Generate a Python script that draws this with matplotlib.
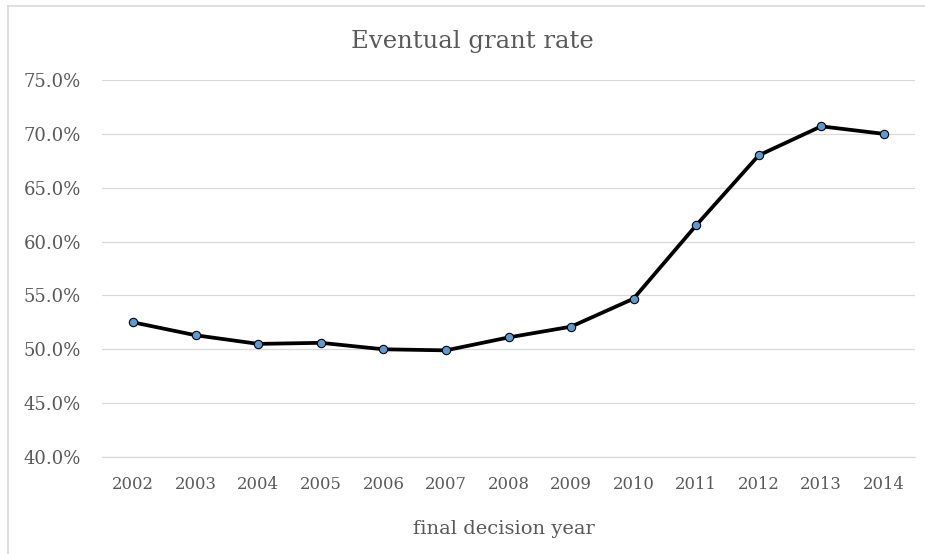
import matplotlib.pyplot as plt
from matplotlib.ticker import PercentFormatter
from matplotlib.lines import Line2D

years = ["2002", "2003", "2004", "2005", "2006", "2007", "2008",
         "2009", "2010", "2011", "2012", "2013", "2014"]
grant_rate = [52.5, 51.3, 50.5, 50.6, 50.0, 49.9, 51.1,
              52.1, 54.7, 61.5, 68.0, 70.7, 70.0]
y_ticks = [40, 45, 50, 55, 60, 65, 70, 75]

plt.rcParams["font.family"] = ["DejaVu Serif"]
text_color = "#595959"
grid_color = "#D9D9D9"

W, H = 925, 554
fig = plt.figure(figsize=(W / 100, H / 100), dpi=100)
ax = fig.add_axes([102 / W, 1 - 457 / H, (915 - 102) / W, (457 - 80) / H])

x = range(len(years))
ax.plot(x, grant_rate, color="black", linewidth=2.7, marker="o",
        markersize=6, markerfacecolor="#5B9BD5", markeredgecolor="black",
        markeredgewidth=0.8, zorder=3)

ax.set_xlim(-0.5, len(years) - 0.5)
ax.set_ylim(40, 75)
ax.set_yticks(y_ticks)
ax.yaxis.set_major_formatter(PercentFormatter(decimals=1))
ax.set_xticks(list(x))
ax.set_xticklabels(years)

ax.grid(axis="y", color=grid_color, linewidth=0.9)
ax.set_axisbelow(True)
for s in ["top", "right", "left"]:
    ax.spines[s].set_visible(False)
ax.spines["bottom"].set_color(grid_color)
ax.spines["bottom"].set_linewidth(0.9)
ax.tick_params(length=0, colors=text_color)
ax.tick_params(axis="x", labelsize=11.8, pad=14)
ax.tick_params(axis="y", labelsize=13, pad=15)

# axis title and chart title
fig.text(504 / W, 1 - 534 / H, "final decision year", ha="center", va="baseline",
         fontsize=14, color=text_color)
fig.text(472 / W, 1 - 48 / H, "Eventual grant rate", ha="center", va="baseline",
         fontsize=17.5, color=text_color)

# chart border (only left and top edges are visible in the crop)
fig.lines.append(Line2D([7.5 / W, 7.5 / W], [0, 1 - 5.5 / H], transform=fig.transFigure,
                        color=grid_color, linewidth=1.2))
fig.lines.append(Line2D([7.5 / W, 1], [1 - 5.5 / H, 1 - 5.5 / H], transform=fig.transFigure,
                        color=grid_color, linewidth=1.2))

fig.savefig("out.png", dpi=100)
